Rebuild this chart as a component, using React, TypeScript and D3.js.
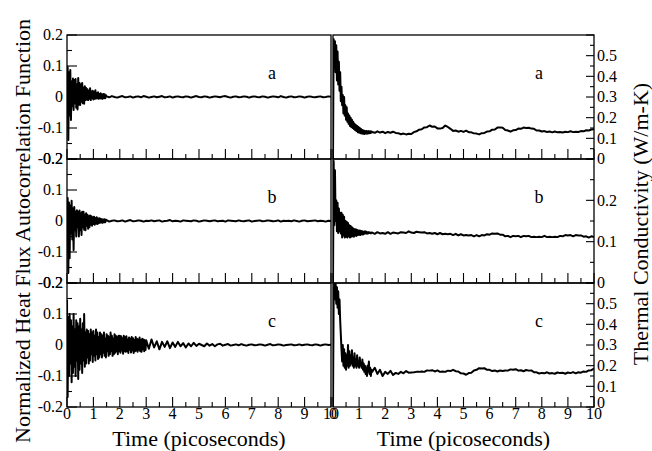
import React from 'react';
import * as d3 from 'd3';

// ---------- data ----------
const EARLY_STEP = 0.025; // ps
const LATE_STEP = 0.1; // ps

const timeTicks = [0, 1, 2, 3, 4, 5, 6, 7, 8, 9, 10];
const timeTickLabels = ['0', '1', '2', '3', '4', '5', '6', '7', '8', '9', '10'];
const hfTickValues = [-0.2, -0.1, 0, 0.1, 0.2];
const hfTickLabels = ['-0.2', '-0.1', '0', '0.1', '0.2'];
const kTickValuesWide = [0, 0.1, 0.2, 0.3, 0.4, 0.5];
const kTickLabelsWide = ['0', '0.1', '0.2', '0.3', '0.4', '0.5'];
const kTickValuesNarrow = [0, 0.1, 0.2];
const kTickLabelsNarrow = ['0', '0.1', '0.2'];
const panelNames = ['a', 'b', 'c'];
const kMax = [0.6, 0.3, 0.6];

// Normalized HFACF, panel a
const hfA_early = [
  0.02, 0.097, -0.139, 0.08, -0.06, 0.087, -0.074, 0.05, -0.03, 0.06,
  -0.042, 0.055, -0.02, 0.058, -0.035, 0.04, -0.04, 0.061, -0.025, 0.045,
  -0.026, 0.04, -0.015, 0.045, -0.02, 0.03, -0.022, 0.035, -0.01, 0.029,
  -0.008, 0.025, -0.01, 0.02, -0.006, 0.028, -0.01, 0.018, -0.004, 0.02,
  -0.008, 0.015, -0.006, 0.022, -0.005, 0.012, -0.004, 0.015, -0.006, 0.01,
  -0.004, 0.012, -0.005, 0.008, -0.006, 0.01, -0.003, 0.009, -0.004, 0.006,
];
const hfA_late = [
  0.002, -0.001, 0.003, 0.0, -0.002, 0.001, 0.003, -0.001, 0.0, 0.002,
  -0.002, 0.001, 0.002, -0.001, 0.003, 0.001, -0.002, 0.0, 0.002, -0.001,
  0.001, 0.003, -0.001, 0.0, 0.002, -0.002, 0.001, 0.002, 0.0, -0.001,
  0.002, 0.001, -0.002, 0.001, 0.003, 0.0, -0.001, 0.002, 0.001, -0.002,
  0.0, 0.002, 0.001, -0.001, 0.002, 0.003, 0.0, -0.002, 0.001, 0.002,
  -0.001, 0.0, 0.002, 0.001, -0.002, 0.001, 0.002, 0.0, -0.001, 0.002,
  0.001, -0.002, 0.0, 0.002, 0.001, -0.001, 0.003, 0.0, -0.002, 0.001,
  0.002, -0.001, 0.0, 0.002, 0.001, -0.002, 0.001, 0.002, 0.0, -0.001,
  0.001, 0.002, -0.001, 0.0, 0.002, 0.001,
];
// Normalized HFACF, panel b
const hfB_early = [
  0.03, 0.074, -0.168, 0.06, -0.12, 0.05, -0.04, 0.065, -0.06, 0.04,
  -0.094, 0.045, -0.03, 0.03, -0.05, 0.035, -0.02, 0.03, -0.05, 0.034,
  -0.03, 0.025, -0.045, 0.03, -0.02, 0.03, -0.028, 0.02, -0.03, 0.025,
  -0.015, 0.02, -0.025, 0.015, -0.02, 0.018, -0.012, 0.015, -0.015, 0.012,
  -0.01, 0.014, -0.012, 0.01, -0.008, 0.012, -0.01, 0.008, -0.007, 0.009,
  -0.006, 0.007, -0.005, 0.006, -0.006, 0.005, -0.004, 0.006, -0.004, 0.004,
];
const hfB_late = [
  0.003, -0.002, 0.001, 0.002, -0.001, 0.0, 0.002, -0.002, 0.001, 0.003,
  -0.001, 0.0, 0.002, 0.001, -0.002, 0.001, 0.0, 0.002, -0.001, 0.001,
  0.002, -0.002, 0.0, 0.001, 0.003, -0.001, 0.001, 0.0, -0.002, 0.002,
  0.001, 0.0, -0.001, 0.002, 0.001, -0.002, 0.0, 0.002, 0.001, -0.001,
  0.001, 0.002, -0.001, 0.0, 0.001, -0.002, 0.002, 0.001, 0.0, -0.001,
  0.002, 0.0, -0.001, 0.001, 0.002, -0.002, 0.0, 0.001, 0.002, -0.001,
  0.0, 0.002, 0.001, -0.001, 0.0, 0.002, -0.002, 0.001, 0.0, 0.001,
  -0.001, 0.002, 0.0, -0.002, 0.001, 0.002, -0.001, 0.0, 0.001, 0.002,
  -0.001, 0.001, 0.0, -0.002, 0.001, 0.0,
];
// Normalized HFACF, panel c (dense part runs to 3 ps)
const hfC_early = [
  0.145, -0.168, 0.09, -0.1, 0.1, -0.06, 0.08, -0.12, 0.06, -0.09,
  0.1, -0.07, 0.05, -0.1, 0.08, -0.05, 0.07, -0.11, 0.06, -0.08,
  0.085, -0.06, 0.05, -0.09, 0.07, -0.05, 0.1, -0.07, 0.04, -0.06,
  0.05, -0.04, 0.045, -0.06, 0.035, -0.05, 0.05, -0.03, 0.04, -0.055,
  0.045, -0.035, 0.03, -0.05, 0.05, -0.03, 0.04, -0.045, 0.025, -0.04,
  0.04, -0.03, 0.035, -0.04, 0.03, -0.025, 0.04, -0.035, 0.02, -0.04,
  0.035, -0.02, 0.03, -0.035, 0.025, -0.03, 0.04, -0.02, 0.03, -0.035,
  0.02, -0.03, 0.035, -0.025, 0.03, -0.02, 0.025, -0.03, 0.03, -0.02,
  0.03, -0.025, 0.028, -0.018, 0.022, -0.028, 0.03, -0.02, 0.025, -0.022,
  0.028, -0.02, 0.018, -0.026, 0.024, -0.015, 0.02, -0.024, 0.026, -0.018,
  0.022, -0.026, 0.016, -0.02, 0.026, -0.018, 0.02, -0.022, 0.018, -0.015,
  0.024, -0.02, 0.016, -0.022, 0.02, -0.014, 0.018, -0.02, 0.015, -0.016,
];
const hfC_late = [
  0.015, -0.012, 0.018, -0.008, 0.012, -0.014, 0.01, -0.006, 0.012, -0.01,
  0.008, -0.006, 0.01, -0.004, 0.006, -0.008, 0.005, -0.004, 0.007, -0.003,
  0.004, 0.0, -0.004, 0.005, -0.002, 0.003, -0.004, 0.002, 0.004, -0.002,
  0.001, 0.003, -0.002, 0.0, 0.002, -0.001, 0.003, 0.0, -0.002, 0.001,
  0.002, -0.001, 0.0, 0.002, 0.001, -0.002, 0.001, 0.003, -0.001, 0.0,
  0.002, 0.001, -0.002, 0.0, 0.001, 0.002, -0.001, 0.0, 0.002, -0.001,
  0.001, 0.002, 0.0, -0.001, 0.002, 0.001, -0.002, 0.001, 0.002, 0.0, 0.001,
];

// Thermal conductivity (W/m-K), panel a
const kA_early = [
  0.0, 0.58, 0.44, 0.57, 0.42, 0.55, 0.38, 0.52, 0.36, 0.47,
  0.33, 0.42, 0.28, 0.35, 0.26, 0.31, 0.22, 0.3, 0.21, 0.26,
  0.19, 0.25, 0.18, 0.22, 0.17, 0.21, 0.16, 0.2, 0.155, 0.19,
  0.15, 0.18, 0.145, 0.17, 0.14, 0.165, 0.135, 0.16, 0.13, 0.155,
  0.128, 0.15, 0.125, 0.145, 0.124, 0.14, 0.122, 0.138, 0.121, 0.136,
  0.123, 0.136, 0.122, 0.134, 0.124, 0.135, 0.125, 0.134, 0.126, 0.133,
];
const kA_late = [
  0.131, 0.127, 0.134, 0.128, 0.132, 0.125, 0.131, 0.127, 0.132, 0.126,
  0.125, 0.12, 0.123, 0.119, 0.122, 0.121, 0.13, 0.134, 0.142, 0.144,
  0.153, 0.154, 0.162, 0.156, 0.157, 0.148, 0.147, 0.15, 0.162, 0.155,
  0.146, 0.136, 0.138, 0.132, 0.136, 0.131, 0.137, 0.13, 0.129, 0.124,
  0.123, 0.119, 0.125, 0.126, 0.133, 0.134, 0.142, 0.143, 0.152, 0.153,
  0.151, 0.14, 0.138, 0.132, 0.139, 0.14, 0.147, 0.146, 0.152, 0.15,
  0.151, 0.147, 0.146, 0.138, 0.138, 0.133, 0.135, 0.131, 0.133, 0.129,
  0.133, 0.129, 0.131, 0.128, 0.132, 0.13, 0.134, 0.13, 0.132, 0.131,
  0.135, 0.134, 0.139, 0.138, 0.143, 0.144,
];
// Thermal conductivity, panel b
const kB_early = [
  0, 0.295, 0.14, 0.273, 0.15, 0.2, 0.125, 0.194, 0.121, 0.18,
  0.125, 0.17, 0.12, 0.17, 0.11, 0.165, 0.115, 0.16, 0.11, 0.15,
  0.112, 0.148, 0.11, 0.145, 0.113, 0.14, 0.11, 0.138, 0.112, 0.135,
  0.113, 0.132, 0.112, 0.13, 0.115, 0.13, 0.114, 0.128, 0.116, 0.127,
  0.117, 0.127, 0.116, 0.126, 0.118, 0.125, 0.117, 0.124, 0.119, 0.125,
  0.12, 0.124, 0.119, 0.123, 0.12, 0.123, 0.121, 0.122, 0.12, 0.122,
];
const kB_late = [
  0.122, 0.119, 0.123, 0.12, 0.121, 0.119, 0.123, 0.119, 0.122, 0.121,
  0.12, 0.123, 0.122, 0.121, 0.125, 0.122, 0.121, 0.124, 0.123, 0.122,
  0.123, 0.12, 0.121, 0.119, 0.121, 0.118, 0.121, 0.118, 0.119, 0.118,
  0.119, 0.116, 0.119, 0.115, 0.118, 0.115, 0.116, 0.115, 0.116, 0.113,
  0.116, 0.113, 0.116, 0.115, 0.118, 0.117, 0.12, 0.119, 0.12, 0.117,
  0.117, 0.113, 0.114, 0.111, 0.114, 0.113, 0.114, 0.111, 0.114, 0.113,
  0.114, 0.111, 0.112, 0.111, 0.112, 0.111, 0.114, 0.111, 0.112, 0.111,
  0.112, 0.111, 0.114, 0.113, 0.116, 0.115, 0.116, 0.113, 0.116, 0.115,
  0.115, 0.112, 0.113, 0.11, 0.113, 0.111,
];
// Thermal conductivity, panel c
const kC_early = [
  0, 0.55, 0.6, 0.52, 0.6, 0.5, 0.58, 0.48, 0.56, 0.45,
  0.52, 0.42, 0.35, 0.28, 0.22, 0.3, 0.2, 0.28, 0.19, 0.26,
  0.18, 0.25, 0.2, 0.3, 0.19, 0.27, 0.2, 0.25, 0.21, 0.275,
  0.2, 0.24, 0.19, 0.26, 0.2, 0.23, 0.19, 0.25, 0.2, 0.22,
  0.19, 0.24, 0.2, 0.21, 0.19, 0.23, 0.18, 0.21, 0.17, 0.2,
  0.16, 0.19, 0.15, 0.2, 0.17, 0.22, 0.16, 0.19, 0.15, 0.18,
];
const kC_late = [
  0.17, 0.19, 0.16, 0.18, 0.15, 0.17, 0.16, 0.175, 0.155, 0.165,
  0.16, 0.17, 0.163, 0.174, 0.166, 0.167, 0.168, 0.17, 0.17, 0.172,
  0.17, 0.177, 0.176, 0.178, 0.172, 0.177, 0.17, 0.172, 0.17, 0.176,
  0.174, 0.18, 0.173, 0.172, 0.163, 0.162, 0.156, 0.164, 0.166, 0.177,
  0.18, 0.188, 0.186, 0.188, 0.18, 0.18, 0.174, 0.177, 0.172, 0.177,
  0.174, 0.177, 0.176, 0.182, 0.18, 0.183, 0.176, 0.178, 0.173, 0.179,
  0.176, 0.177, 0.168, 0.168, 0.162, 0.165, 0.163, 0.168, 0.162, 0.164,
  0.161, 0.167, 0.164, 0.166, 0.161, 0.167, 0.164, 0.169, 0.163, 0.168,
  0.166, 0.172, 0.17, 0.177, 0.178, 0.186,
];

// ---------- layout ----------
const W = 652;
const H = 451;
const LX = [67, 331];
const RX = [333, 594];
const TOPS = [35, 159, 283];
const PH = 124;
const FONT = '"Liberation Serif", "Times New Roman", Times, serif';

type Pt = [number, number];
function toPoints(early: number[], late: number[], lateStart: number): Pt[] {
  const pts: Pt[] = early.map((v, i) => [i * EARLY_STEP, v] as Pt);
  late.forEach((v, i) => pts.push([lateStart + i * LATE_STEP, v]));
  return pts;
}

const hfSeries = [
  toPoints(hfA_early, hfA_late, 1.5),
  toPoints(hfB_early, hfB_late, 1.5),
  toPoints(hfC_early, hfC_late, 3.0),
];
const kSeries = [
  toPoints(kA_early, kA_late, 1.5),
  toPoints(kB_early, kB_late, 1.5),
  toPoints(kC_early, kC_late, 1.5),
];

const xL = d3.scaleLinear().domain([0, 10]).range(LX);
const xR = d3.scaleLinear().domain([0, 10]).range(RX);
const minorTimes = d3.range(0.5, 10, 1);

export default function App() {
  const rows = [0, 1, 2];
  return (
    <svg
      width={W}
      height={H}
      viewBox={`0 0 ${W} ${H}`}
      style={{ position: 'absolute', left: 0, top: 0, background: '#fff', fontFamily: FONT }}
    >
      <rect x={0} y={0} width={W} height={H} fill="#fff" />
      <defs>
        {rows.map((r) => (
          <React.Fragment key={r}>
            <clipPath id={`cl${r}`}>
              <rect x={LX[0]} y={TOPS[r]} width={LX[1] - LX[0]} height={PH} />
            </clipPath>
            <clipPath id={`cr${r}`}>
              <rect x={RX[0]} y={TOPS[r]} width={RX[1] - RX[0]} height={PH} />
            </clipPath>
          </React.Fragment>
        ))}
      </defs>
      {rows.map((r) => {
        const top = TOPS[r];
        const bottom = top + PH;
        const yL = d3.scaleLinear().domain([-0.2, 0.2]).range([bottom, top]);
        const yR = d3.scaleLinear().domain([0, kMax[r]]).range([bottom, top]);
        const lineL = d3.line<Pt>().x((d) => xL(d[0])).y((d) => yL(d[1]));
        const lineR = d3.line<Pt>().x((d) => xR(d[0])).y((d) => yR(d[1]));
        const kVals = r === 1 ? kTickValuesNarrow : kTickValuesWide;
        const kLabels = r === 1 ? kTickLabelsNarrow : kTickLabelsWide;
        const kMinor = d3.range(0.05, kMax[r], 0.1);
        const kMajorAll = d3.range(0, kMax[r] + 0.001, 0.1);
        const hfMinor = [-0.15, -0.05, 0.05, 0.15];
        return (
          <g key={r}>
            {/* data */}
            <path
              d={lineL(hfSeries[r]) || ''}
              fill="none"
              stroke="#000"
              strokeWidth={2}
              strokeLinejoin="round"
              clipPath={`url(#cl${r})`}
            />
            <path
              d={lineR(kSeries[r]) || ''}
              fill="none"
              stroke="#000"
              strokeWidth={2}
              strokeLinejoin="round"
              clipPath={`url(#cr${r})`}
            />
            {/* frames */}
            <rect x={LX[0]} y={top} width={LX[1] - LX[0]} height={PH} fill="none" stroke="#000" strokeWidth={1.3} />
            <rect x={RX[0]} y={top} width={RX[1] - RX[0]} height={PH} fill="none" stroke="#000" strokeWidth={1.3} />
            {/* bottom ticks */}
            {timeTicks.map((t) => (
              <g key={`bt${t}`}>
                <line x1={xL(t)} x2={xL(t)} y1={bottom} y2={bottom - 10} stroke="#000" strokeWidth={1.1} />
                <line x1={xR(t)} x2={xR(t)} y1={bottom} y2={bottom - 10} stroke="#000" strokeWidth={1.1} />
              </g>
            ))}
            {minorTimes.map((t) => (
              <g key={`bm${t}`}>
                <line x1={xL(t)} x2={xL(t)} y1={bottom} y2={bottom - 5} stroke="#000" strokeWidth={1.1} />
                <line x1={xR(t)} x2={xR(t)} y1={bottom} y2={bottom - 5} stroke="#000" strokeWidth={1.1} />
              </g>
            ))}
            {/* left axis ticks */}
            {hfTickValues.map((v) => (
              <line key={`lt${v}`} x1={LX[0]} x2={LX[0] + 10} y1={yL(v)} y2={yL(v)} stroke="#000" strokeWidth={1.1} />
            ))}
            {hfMinor.map((v) => (
              <line key={`lm${v}`} x1={LX[0]} x2={LX[0] + 5} y1={yL(v)} y2={yL(v)} stroke="#000" strokeWidth={1.1} />
            ))}
            {hfTickValues.map((v, i) => (
              <text key={`ll${v}`} x={LX[0] - 4} y={yL(v)} dy="0.34em" textAnchor="end" fontSize={16}>
                {hfTickLabels[i]}
              </text>
            ))}
            {/* right axis ticks */}
            {kMajorAll.map((v) => (
              <line key={`rt${v}`} x1={RX[1]} x2={RX[1] - 8} y1={yR(v)} y2={yR(v)} stroke="#000" strokeWidth={1.1} />
            ))}
            {kMinor.map((v) => (
              <line key={`rm${v}`} x1={RX[1]} x2={RX[1] - 4} y1={yR(v)} y2={yR(v)} stroke="#000" strokeWidth={1.1} />
            ))}
            {kVals.map((v, i) => (
              <text
                key={`rl${v}`}
                x={RX[1] + 3}
                y={yR(v) - (r === 2 && v === 0 ? 4 : 0)}
                dy="0.34em"
                textAnchor="start"
                fontSize={16}
              >
                {kLabels[i]}
              </text>
            ))}
            {/* panel letters */}
            <text x={272} y={top + 38} dy="0.34em" textAnchor="middle" fontSize={18}>
              {panelNames[r]}
            </text>
            <text x={539} y={top + 38} dy="0.34em" textAnchor="middle" fontSize={18}>
              {panelNames[r]}
            </text>
          </g>
        );
      })}
      {/* x tick labels */}
      {timeTicks.map((t, i) => (
        <g key={`xl${t}`}>
          <text x={xL(t)} y={419} textAnchor="middle" fontSize={16}>
            {timeTickLabels[i]}
          </text>
          <text x={xR(t)} y={419} textAnchor="middle" fontSize={16}>
            {timeTickLabels[i]}
          </text>
        </g>
      ))}
      {/* axis titles */}
      <text x={(LX[0] + LX[1]) / 2} y={446} textAnchor="middle" fontSize={22}>
        Time (picoseconds)
      </text>
      <text x={(RX[0] + RX[1]) / 2} y={446} textAnchor="middle" fontSize={22}>
        Time (picoseconds)
      </text>
      <text transform="translate(30,231) rotate(-90)" textAnchor="middle" fontSize={22}>
        Normalized Heat Flux Autocorrelation Function
      </text>
      <text transform="translate(648,224) rotate(-90)" textAnchor="middle" fontSize={22}>
        Thermal Conductivity (W/m-K)
      </text>
    </svg>
  );
}
